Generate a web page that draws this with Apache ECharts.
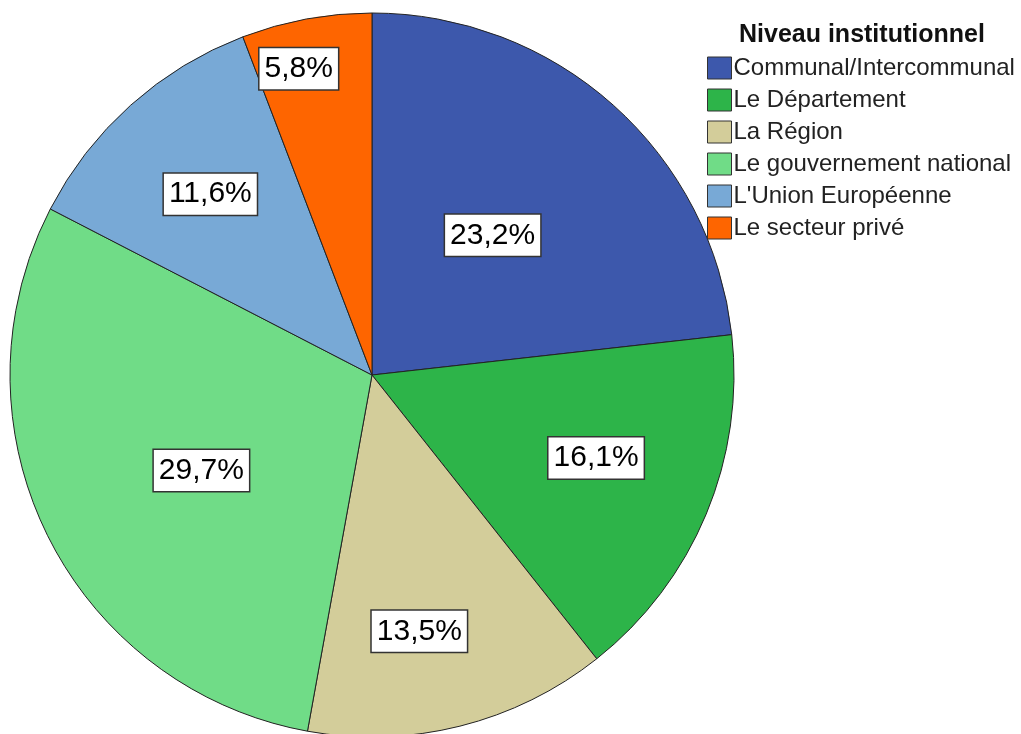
<!DOCTYPE html>
<html>
<head>
<meta charset="utf-8">
<script src="https://cdn.jsdelivr.net/npm/echarts@6/dist/echarts.min.js"></script>
<style>
  html, body { margin: 0; padding: 0; background: #fff; }
  #chart { width: 1021px; height: 734px; }
</style>
</head>
<body>
<div id="chart"></div>
<script>
// Niveau institutionnel - pie
var categories = ['Communal/Intercommunal', 'Le Département', 'La Région', 'Le gouvernement national', "L'Union Européenne", 'Le secteur privé'];
var percents = [23.2, 16.1, 13.5, 29.7, 11.6, 5.8];
var colors = ['#3d58ac', '#2db449', '#d3cd9a', '#70dc87', '#78a9d6', '#fe6500'];
// label placement: part of the radius, and turn (degrees, clockwise) from the slice middle
var labelRadius = [0.51, 0.66, 0.72, 0.54, 0.67, 0.87];
var labelTurn = [-1, -2.3, 3.6, -3, 0, -3];

var center = [372, 375];
var radius = 362;

var myChart = echarts.init(document.getElementById('chart'));
var option = {
	animation: false,
	color: colors,
	title: {
		text: 'Niveau institutionnel',
		left: 739,
		top: 23,
		padding: 0,
		textStyle: { fontFamily: 'Liberation Sans', fontWeight: 'bold', fontSize: 25, color: '#111' }
	},
	legend: {
		orient: 'vertical',
		left: 707,
		top: 56,
		padding: 0,
		itemWidth: 24,
		itemHeight: 22,
		itemGap: 8,
		icon: 'rect',
		itemStyle: { borderColor: '#333', borderWidth: 1 },
		textStyle: { fontFamily: 'Liberation Sans', fontSize: 24, lineHeight: 22, color: '#222', padding: [0, 0, 0, -3] },
		data: categories
	},
	series: [{
		type: 'pie',
		center: center,
		radius: radius,
		startAngle: 90,
		clockwise: true,
		itemStyle: { borderColor: '#222', borderWidth: 1 },
		emphasis: { disabled: true },
		label: {
			position: 'inside',
			formatter: function (p) { return p.value.toFixed(1).replace('.', ',') + '%'; },
			fontFamily: 'Liberation Sans',
			fontSize: 30,
			color: '#000',
			backgroundColor: '#fff',
			borderColor: '#333',
			borderWidth: 1.5,
			padding: [6, 5, 5, 5]
		},
		labelLayout: function (p) {
			var r = p.labelRect;
			var cx = r.x + r.width / 2;
			var cy = r.y + r.height / 2;
			var vx = cx - center[0], vy = cy - center[1];
			var ang = Math.atan2(vy, vx) + labelTurn[p.dataIndex] * Math.PI / 180;
			var d = labelRadius[p.dataIndex] * radius;
			return {
				dx: center[0] + d * Math.cos(ang) - cx,
				dy: center[1] + d * Math.sin(ang) - cy
			};
		},
		data: categories.map(function (c, i) { return { name: c, value: percents[i] }; })
	}]
};
myChart.setOption(option);
</script>
</body>
</html>
